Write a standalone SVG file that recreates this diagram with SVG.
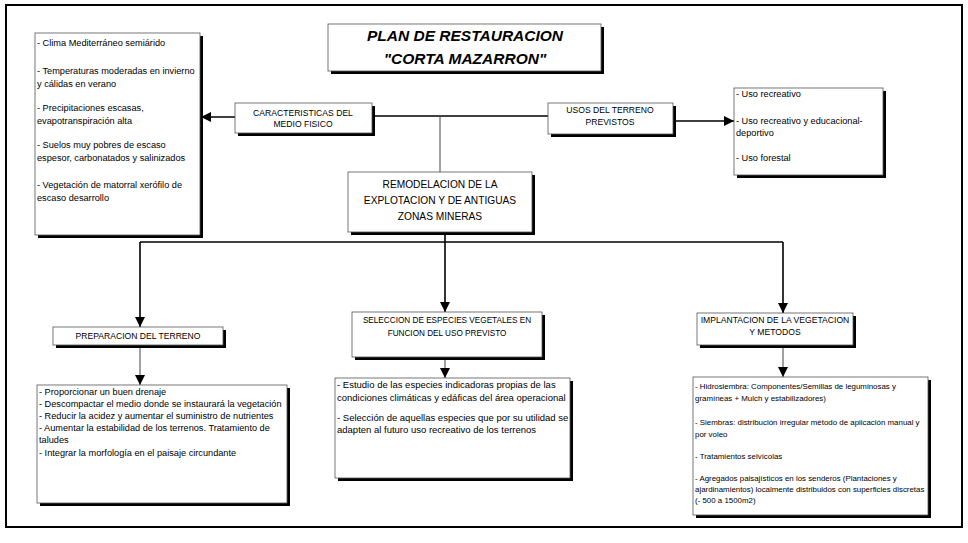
<svg xmlns="http://www.w3.org/2000/svg" width="968" height="543" viewBox="0 0 968 543">
<style>
.sh{fill:#000}
.box{fill:#fff;stroke:#555;stroke-width:0.8}
.ln{stroke:#000;stroke-width:1.6;fill:none}
.thin{stroke:#444;stroke-width:1;fill:none}
.lab{font-family:"Liberation Sans",Arial,sans-serif;font-size:8.6px;fill:#000;text-anchor:middle}
.txt{font-family:"Liberation Sans",Arial,sans-serif;font-size:9.2px;fill:#000}
.txt7{font-family:"Liberation Sans",Arial,sans-serif;font-size:7.9px;fill:#000}
.ttl{font-family:"Liberation Sans",Arial,sans-serif;font-size:15.5px;font-weight:bold;font-style:italic;fill:#000;text-anchor:middle}
</style>
<defs>
<marker id="ar" viewBox="0 0 10 10" refX="10" refY="5" markerWidth="10" markerHeight="10" markerUnits="userSpaceOnUse" orient="auto">
<path d="M0,0 L10,5 L0,10 z" fill="#000"/>
</marker>
</defs>
<rect x="0" y="0" width="968" height="543" fill="#fff"/>
<rect x="6" y="5" width="956" height="522" fill="none" stroke="#000" stroke-width="2"/>

<g id="connectors">
<line class="ln" x1="372" y1="116" x2="548" y2="116"/>
<line class="thin" x1="440" y1="116" x2="440" y2="172"/>
<line class="ln" x1="235" y1="117" x2="201" y2="117" marker-end="url(#ar)"/>
<line class="ln" x1="673" y1="121" x2="734" y2="121" marker-end="url(#ar)"/>
<line class="ln" x1="445" y1="232" x2="445" y2="312" marker-end="url(#ar)"/>
<line class="ln" x1="140" y1="242" x2="783" y2="242"/>
<line class="ln" x1="140" y1="242" x2="140" y2="327" marker-end="url(#ar)"/>
<line class="ln" x1="783" y1="242" x2="783" y2="313" marker-end="url(#ar)"/>
<line class="thin" x1="140" y1="346" x2="140" y2="385" marker-end="url(#ar)"/>
<line class="thin" x1="445" y1="358" x2="445" y2="378" marker-end="url(#ar)"/>
<line class="thin" x1="783" y1="346" x2="783" y2="377" marker-end="url(#ar)"/>
</g>

<g id="title">
<rect class="sh" x="331" y="27" width="273" height="47"/>
<rect class="box" x="328" y="24" width="273" height="47"/>
<text class="ttl" x="465" y="41">PLAN DE RESTAURACION</text>
<text class="ttl" x="465" y="64">"CORTA MAZARRON"</text>
</g>

<g id="caracteristicas">
<rect class="sh" x="238" y="106" width="137" height="30"/>
<rect class="box" x="235" y="103" width="137" height="30"/>
<text class="lab" x="303" y="116">CARACTERISTICAS DEL</text>
<text class="lab" x="303" y="127">MEDIO FISICO</text>
</g>

<g id="usos">
<rect class="sh" x="551" y="106" width="125" height="31"/>
<rect class="box" x="548" y="103" width="125" height="31"/>
<text class="lab" x="610" y="113">USOS DEL TERRENO</text>
<text class="lab" x="610" y="125">PREVISTOS</text>
</g>

<g id="lista-caracteristicas">
<rect class="sh" x="38" y="36" width="165" height="202"/>
<rect class="box" x="35" y="33" width="165" height="202"/>
<text class="txt" x="37" y="46">- Clima Mediterráneo semiárido</text>
<text class="txt" x="37" y="74">- Temperaturas moderadas en invierno</text>
<text class="txt" x="37" y="87">y cálidas en verano</text>
<text class="txt" x="37" y="111">- Precipitaciones escasas,</text>
<text class="txt" x="37" y="124">evapotranspiración alta</text>
<text class="txt" x="37" y="148">- Suelos muy pobres de escaso</text>
<text class="txt" x="37" y="161">espesor, carbonatados y salinizados</text>
<text class="txt" x="37" y="188">- Vegetación de matorral xerófilo de</text>
<text class="txt" x="37" y="201">escaso desarrollo</text>
</g>

<g id="lista-usos">
<rect class="sh" x="737" y="91" width="149" height="87"/>
<rect class="box" x="734" y="88" width="149" height="87"/>
<text class="txt" x="736" y="97">- Uso recreativo</text>
<text class="txt" x="736" y="124">- Uso recreativo y educacional-</text>
<text class="txt" x="736" y="136">deportivo</text>
<text class="txt" x="736" y="161">- Uso forestal</text>
</g>

<g id="remodelacion">
<rect class="sh" x="351" y="175" width="184" height="60"/>
<rect class="box" x="348" y="172" width="184" height="60"/>
<text class="lab" x="440" y="188" style="font-size:10.2px">REMODELACION DE LA</text>
<text class="lab" x="440" y="204" style="font-size:10.2px">EXPLOTACION Y DE ANTIGUAS</text>
<text class="lab" x="440" y="220" style="font-size:10.2px">ZONAS MINERAS</text>
</g>

<g id="preparacion">
<rect class="sh" x="56" y="330" width="170" height="18"/>
<rect class="box" x="53" y="327" width="170" height="18"/>
<text class="lab" x="138" y="339">PREPARACION DEL TERRENO</text>
</g>

<g id="seleccion">
<rect class="sh" x="355" y="315" width="190" height="45"/>
<rect class="box" x="352" y="312" width="190" height="45"/>
<text class="lab" x="447" y="323" style="font-size:8.2px">SELECCION DE ESPECIES VEGETALES EN</text>
<text class="lab" x="447" y="336" style="font-size:8.2px">FUNCION DEL USO PREVISTO</text>
</g>

<g id="implantacion">
<rect class="sh" x="700" y="316" width="156" height="32"/>
<rect class="box" x="697" y="313" width="156" height="32"/>
<text class="lab" x="775" y="323">IMPLANTACION DE LA VEGETACION</text>
<text class="lab" x="775" y="335">Y METODOS</text>
</g>

<g id="lista-preparacion">
<rect class="sh" x="40" y="388" width="250" height="118"/>
<rect class="box" x="37" y="385" width="250" height="118"/>
<text class="txt" x="39" y="395">- Proporcionar un buen drenaje</text>
<text class="txt" x="39" y="407">- Descompactar el medio donde se instaurará la vegetación</text>
<text class="txt" x="39" y="419">- Reducir la acidez y aumentar el suministro de nutrientes</text>
<text class="txt" x="39" y="431">- Aumentar la estabilidad de los terrenos. Tratamiento de</text>
<text class="txt" x="39" y="443">taludes</text>
<text class="txt" x="39" y="456">- Integrar la morfología en el paisaje circundante</text>
</g>

<g id="lista-seleccion">
<rect class="sh" x="338" y="381" width="235" height="100"/>
<rect class="box" x="335" y="378" width="235" height="100"/>
<text class="txt" x="337" y="388" style="font-size:9.5px">- Estudio de las especies indicadoras propias de las</text>
<text class="txt" x="337" y="401" style="font-size:9.5px">condiciones climáticas y edáficas del área operacional</text>
<text class="txt" x="337" y="421" style="font-size:9.5px">- Selección de aquellas especies que por su utilidad se</text>
<text class="txt" x="337" y="433" style="font-size:9.5px">adapten al futuro uso recreativo de los terrenos</text>
</g>

<g id="lista-implantacion">
<rect class="sh" x="696" y="380" width="235" height="138"/>
<rect class="box" x="693" y="377" width="235" height="138"/>
<text class="txt7" x="695" y="389">- Hidrosiembra: Componentes/Semillas de leguminosas y</text>
<text class="txt7" x="695" y="401">gramíneas + Mulch y estabilizadores)</text>
<text class="txt7" x="695" y="425">- Siembras: distribución irregular método de aplicación manual y</text>
<text class="txt7" x="695" y="437">por voleo</text>
<text class="txt7" x="695" y="459">- Tratamientos selvícolas</text>
<text class="txt7" x="695" y="481">- Agregados paisajísticos en los senderos (Plantaciones y</text>
<text class="txt7" x="695" y="492">ajardinamientos) localmente distribuidos con superficies discretas</text>
<text class="txt7" x="695" y="503">(- 500 a 1500m2)</text>
</g>
</svg>
